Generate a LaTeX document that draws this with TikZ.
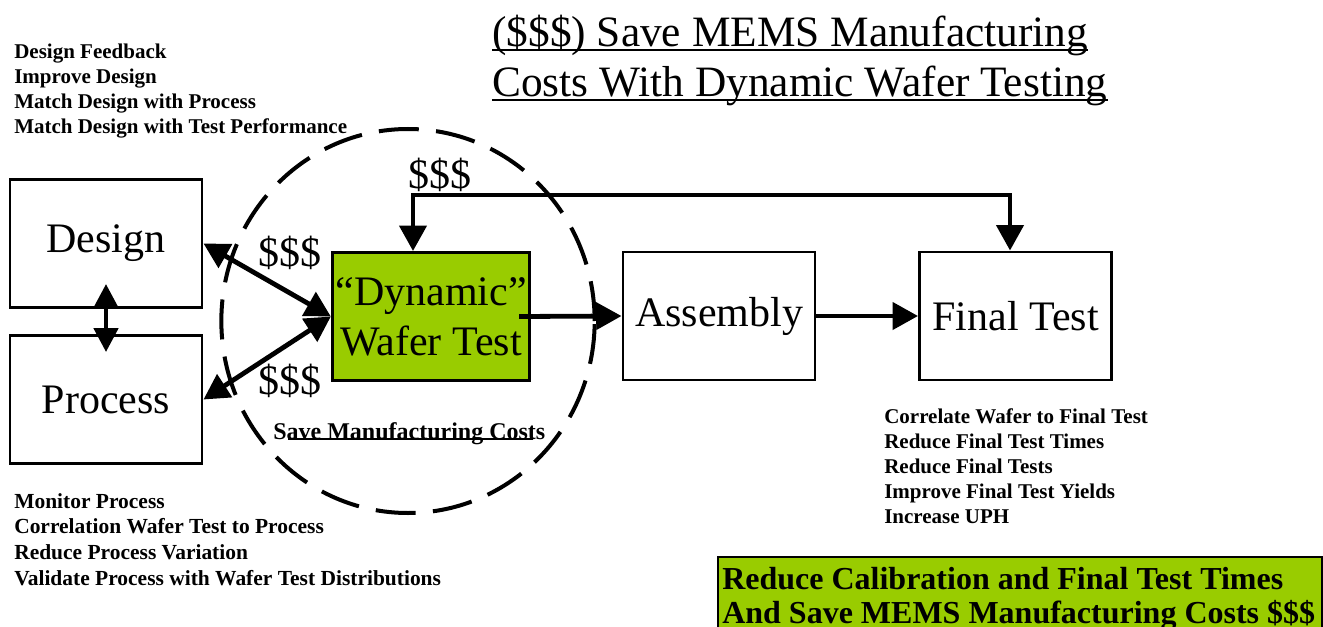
\documentclass[tikz,border=0pt]{standalone}
\usepackage{fontspec}
\setmainfont{Liberation Serif}
\usepackage{tikz}
\usetikzlibrary{calc, arrows.meta, shapes.geometric}
\definecolor{wafergreen}{RGB}{153,204,0}
\newcommand{\bigfont}{\fontsize{31.5}{37.5}\selectfont}
\newcommand{\notefont}{\fontsize{15.75}{18.75}\selectfont\bfseries}
\tikzstyle{block}  = [draw, line width=2.2pt, minimum width=144pt, minimum height=96pt, align=center, font=\bigfont, inner sep=0pt]
\tikzstyle{arrow}  = [line width=3.6pt, >={Triangle[length=19pt,width=20pt]}]
\tikzstyle{note}   = [anchor=base west, inner sep=0pt, font=\notefont]
\tikzstyle{cost}   = [font=\bigfont, inner sep=0pt]
\tikzstyle{uline}  = [line width=1.6pt]

\begin{document}
\begin{tikzpicture}[x=0.75pt, y=-0.75pt]
  \useasboundingbox (0,0) rectangle (1323,627);

  %title
  \node[cost, anchor=base west, font=\fontsize{32.5}{37.5}\selectfont] (title1) at (492,47) {(\$\$\$) Save MEMS Manufacturing};
  \node[cost, anchor=base west, font=\fontsize{32.5}{37.5}\selectfont] (title2) at (492,97) {Costs With Dynamic Wafer Testing};
  \draw[uline] ($(title1.base west)+(0,3)$) -- ($(title1.base east)+(0,3)$);
  \draw[uline] ($(title2.base west)+(0,3)$) -- ($(title2.base east)+(0,3)$);

  %the flow boxes
  \node[block] (design) at (106,243.5) {Design};
  \node[block] (process) at (106,399.5) {Process};
  \node[block, fill=wafergreen, minimum width=148pt] (wafer) at (431,316.5) {``Dynamic''\\Wafer Test};
  \node[block] (assembly) at (719,316) {Assembly};
  \node[block] (final) at (1015.5,316) {Final Test};

  %circle round the wafer test
  \draw[line width=3pt, dash pattern=on 30pt off 13pt] (408,321) ellipse [x radius=140pt, y radius=144pt];

  \draw[arrow,<->,>={Triangle[length=18pt,width=18pt]}] ($(design.south)+(0,-25)$) -- ($(process.north)+(0,18)$);
  \draw[arrow,<->] (design.east) -- (wafer.west);
  \draw[arrow,<->] (process.east) -- (wafer.west);
  \draw[arrow,->] ($(wafer.east)+(-12,0)$) -- (assembly.west);
  \draw[arrow,->] (assembly.east) -- (final.west);

  %feedback loop over the top
  \coordinate (loopl) at (413,195);
  \coordinate (loopr) at (1010,195);
  \draw[arrow,<->] (wafer.north -| loopl) -- (loopl) -- (loopr) -- (final.north -| loopr);

  \node[cost] (cost1) at (290,253) {\$\$\$};
  \node[cost] (cost2) at (290,381) {\$\$\$};
  \node[cost] (cost3) at (440,175) {\$\$\$};

  \node[note, font=\fontsize{18}{20}\selectfont\bfseries] (save) at (273,439) {Save Manufacturing Costs};
  \draw[uline, line width=1.2pt] ($(save.base west)+(15,0)$) -- ($(save.base east)+(-13,0)$);

  %notes round the boxes
  \foreach \t [count=\i] in {Design Feedback, Improve Design, Match Design with Process, Match Design with Test Performance}{
    \node[note] (fb\i) at (14,59+25*\i-25) {\t};
  }
  \foreach \t [count=\i] in {Monitor Process, Correlation Wafer Test to Process, Reduce Process Variation, Validate Process with Wafer Test Distributions}{
    \node[note, font=\fontsize{16.1}{18.75}\selectfont\bfseries] (pr\i) at (14,508+25.7*\i-25.7) {\t};
  }
  \foreach \t [count=\i] in {Correlate Wafer to Final Test, Reduce Final Test Times, Reduce Final Tests, Improve Final Test Yields, Increase UPH}{
    \node[note] (ft\i) at (884,423+25*\i-25) {\t};
  }

  %summary box, cut by the page edge
  \draw[line width=1pt, fill=wafergreen] (718,557) rectangle (1322,660);
  \node[note, font=\fontsize{24}{26.25}\selectfont\bfseries] (goal1) at (722,589) {Reduce Calibration and Final Test Times};
  \node[note, font=\fontsize{24}{26.25}\selectfont\bfseries] (goal2) at (722,623) {And Save MEMS Manufacturing Costs \$\$\$};
\end{tikzpicture}
\end{document}
